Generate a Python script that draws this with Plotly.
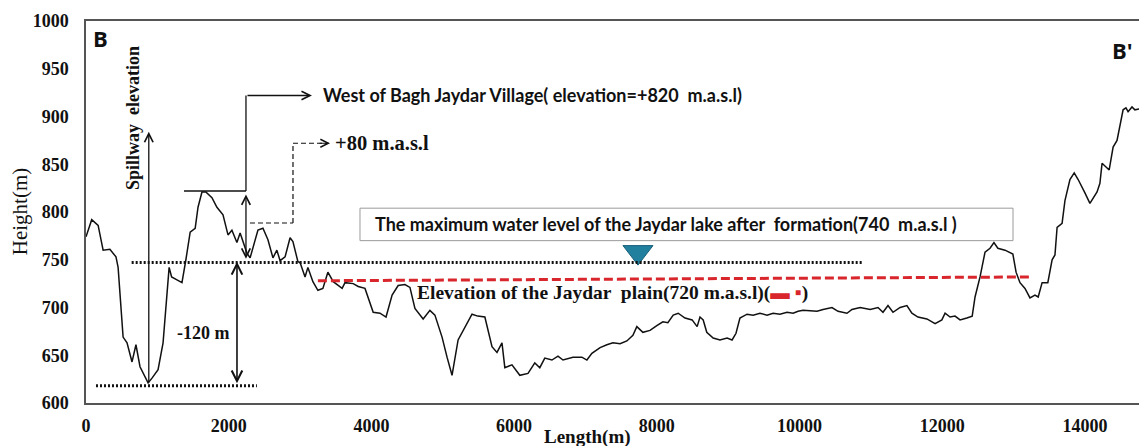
import plotly.graph_objects as go

# ---- data ----
length_m = [0, 80, 170, 240, 335, 420, 450, 520, 575, 645, 700, 757, 870, 925, 1010, 1080, 1165, 1200,
            1275, 1345, 1400, 1460, 1530, 1570, 1625, 1680, 1765, 1835, 1920, 1990, 2045, 2115, 2160,
            2255, 2300, 2370, 2410, 2480, 2550, 2620, 2675, 2720, 2790, 2860, 2900, 2970, 3000, 3070,
            3110, 3180, 3250, 3320, 3390, 3465, 3590, 3630, 3745, 3815, 3910, 4025, 4120, 4205, 4290,
            4375, 4470, 4540, 4610, 4725, 4820, 4890, 4990, 5060, 5130, 5215, 5310, 5410, 5490, 5590,
            5690, 5760, 5830, 5870, 5970, 6080, 6195, 6290, 6360, 6430, 6530, 6615, 6685, 6825, 6950,
            7020, 7090, 7205, 7300, 7385, 7485, 7580, 7665, 7720, 7805, 7905, 8000, 8085, 8155, 8230,
            8300, 8395, 8495, 8565, 8605, 8650, 8700, 8790, 8885, 8985, 9055, 9110, 9165, 9265, 9350,
            9445, 9545, 9630, 9725, 9825, 9910, 9980, 10050, 10245, 10330, 10455, 10540, 10665, 10735,
            10850, 10990, 11100, 11170, 11240, 11310, 11410, 11505, 11575, 11660, 11785, 11900, 11995,
            12040, 12110, 12180, 12250, 12345, 12420, 12460, 12530, 12600, 12670, 12725, 12780, 12880,
            12990, 13035, 13090, 13160, 13230, 13300, 13345, 13400, 13480, 13540, 13580, 13610, 13680,
            13720, 13790, 13850, 13905, 14000, 14070, 14170, 14210, 14240, 14295, 14340, 14395, 14450,
            14535, 14575, 14605, 14660, 14700, 14770, 14815, 14870]
height_m = [774, 792, 786, 760, 761, 753, 742, 669, 663, 643, 661, 638, 621, 626, 635, 663, 742, 732,
            729, 726, 750, 779, 783, 805, 821, 821, 815, 805, 797, 776, 781, 768, 778,
            757, 752, 771, 781, 783, 771, 752, 760, 749, 753, 773, 769, 748, 747, 732,
            742, 727, 718, 720, 737, 727, 720, 726, 725, 722, 720, 695, 694, 690, 713,
            723, 724, 721, 699, 688, 697, 692, 669, 648, 629, 666, 680, 693, 691, 690,
            659, 653, 663, 637, 640, 629, 631, 642, 637, 647, 645, 649, 645, 648, 648,
            645, 652, 658, 661, 663, 662, 665, 671, 680, 674, 676, 681, 685, 684, 692,
            694, 689, 687, 680, 690, 687, 674, 668, 666, 668, 666, 673, 689, 693, 692,
            694, 692, 694, 693, 695, 694, 696, 697, 696, 698, 700, 696, 694, 698,
            700, 698, 700, 695, 702, 695, 700, 702, 694, 690, 688, 683, 687,
            694, 690, 691, 687, 689, 691, 711, 732, 758, 762, 768, 762, 760,
            756, 737, 726, 720, 710, 713, 711, 726, 726, 750, 755, 784, 788,
            812, 834, 841, 834, 820, 809, 821, 830, 851, 847, 844, 868, 875,
            907, 909, 905, 910, 907, 908, 902, 894]

x_ticks = [0, 2000, 4000, 6000, 8000, 10000, 12000, 14000]
y_ticks = [600, 650, 700, 750, 800, 850, 900, 950, 1000]

lake_marker_x = [7736]
lake_marker_y = [758]

SERIF = "Liberation Serif"
SANS = "Lato"

fig = go.Figure()
fig.add_trace(go.Scatter(x=length_m, y=height_m, mode="lines",
                         line=dict(color="#111111", width=1.5), showlegend=False, hoverinfo="skip"))
fig.add_trace(go.Scatter(x=lake_marker_x, y=lake_marker_y, mode="markers",
                         marker=dict(symbol="triangle-down", size=26, color="#22809f",
                                     line=dict(color="#175f78", width=1)),
                         showlegend=False, hoverinfo="skip"))

shapes = []
def hline(x0, x1, y, **kw):
    shapes.append(dict(type="line", xref="x", yref="y", x0=x0, x1=x1, y0=y, y1=y, **kw))
def vline(x, y0, y1, **kw):
    shapes.append(dict(type="line", xref="x", yref="y", x0=x, x1=x, y0=y0, y1=y1, **kw))

blk = dict(color="#111111", width=1.3)
# dotted reference lines
hline(640, 10880, 747, line=dict(color="#111111", width=3, dash="2px,2px"))
hline(140, 2395, 618, line=dict(color="#111111", width=3, dash="2px,2px"))
# red dashed plain line
shapes.append(dict(type="line", xref="x", yref="y", x0=3250, x1=13240, y0=728, y1=732,
                   line=dict(color="#d8262c", width=3, dash="9px,4px")))
# 820 level line and vertical connector
hline(1373, 2242, 822, line=blk)
vline(2242, 822, 922, line=blk)
# dashed +80 path
hline(2298, 2901, 788.5, line=dict(color="#111111", width=1.2, dash="5px,3px"))
vline(2901, 788.5, 872, line=dict(color="#111111", width=1.2, dash="5px,3px"))
hline(2901, 3400, 872, line=dict(color="#111111", width=1.2, dash="5px,3px"))
# box
shapes.append(dict(type="rect", xref="x", yref="y", x0=3840, x1=12992, y0=770, y1=804,
                   line=dict(color="#9a9a9a", width=1), fillcolor="rgba(255,255,255,0)"))

ann = []
def arrow(x, y, ax, ay, both=False, width=1.3):
    d = dict(x=x, y=y, ax=ax, ay=ay, xref="x", yref="y", axref="x", ayref="y", text="",
             showarrow=True, arrowhead=5, arrowsize=1.3, arrowwidth=width, arrowcolor="#111111")
    if both:
        d.update(arrowside="end+start", startarrowhead=5, startarrowsize=1.3)
    ann.append(d)

arrow(880, 884, 880, 620)                     # spillway arrow
arrow(2242, 751, 2242, 820, both=True)        # 820 -> 747 double arrow
arrow(3167, 922, 2242, 922)                   # to West of Bagh Jaydar
arrow(2116, 748, 2116, 619, both=True, width=1.6)  # -120 m
ann.append(dict(x=3420, y=872, ax=-12, ay=0, xref="x", yref="y", text="", showarrow=True,
                arrowhead=5, arrowsize=1.3, arrowwidth=1.2, arrowcolor="#111111"))

def text(x, y, s, font, size, xanchor="left", angle=0, color="#111111", xref="x", yref="y"):
    ann.append(dict(x=x, y=y, xref=xref, yref=yref, text=s, showarrow=False, xanchor=xanchor,
                    yanchor="middle", textangle=angle,
                    font=dict(family=font, size=size, color=color)))

text(3293, 922, "<b>West of Bagh Jaydar Village( elevation=+820  m.a.s.l)</b>", SANS, 18)
text(3462, 872, "<b>+80 m.a.s.l</b>", SERIF, 20.5)
text(665, 899, "<b>Spillway  elevation</b>", SERIF, 18, xanchor="center", angle=-90)
text(1640, 673, "<b>-120 m</b>", SERIF, 18, xanchor="center")
text(4022, 787.5, "<b>The maximum water level of the Jaydar lake after  formation(740  m.a.s.l )</b>", SANS, 18)
text(4611, 715, "<b>Elevation of the Jaydar  plain(720 m.a.s.l)(<span style='color:#d8262c'>▬ ▪</span>)</b>", SERIF, 19.5)
text(210, 982, "<b>B</b>", "Open Sans", 22, xanchor="center")
text(14700, 970, "<b>B'</b>", "Open Sans", 22, xanchor="right")
text(0.473, -0.088, "<b>Length(m)</b>", SERIF, 19, xanchor="center", xref="paper", yref="paper")
text(-0.062, 0.5, "Height(m)", SERIF, 21, xanchor="center", angle=-90, xref="paper", yref="paper")

# the page body adds an 8 px offset, so the figure is 8 px smaller and margins shifted
fig.update_layout(
    width=1139, height=438,
    margin=dict(l=78, r=0, t=13, b=43, autoexpand=False),
    paper_bgcolor="white", plot_bgcolor="white",
    shapes=shapes, annotations=ann,
    xaxis=dict(range=[0, 14870], tickvals=x_ticks, ticktext=[str(v) for v in x_ticks],
               showgrid=False, zeroline=False, showline=True, linecolor="#555555", linewidth=1.5,
               mirror=True, ticks="outside", ticklen=6, tickcolor="rgba(0,0,0,0)", automargin=False,
               tickfont=dict(family=SERIF, size=18, color="#111111", weight="bold")),
    yaxis=dict(range=[600, 1000], tickvals=y_ticks, ticktext=[str(v) for v in y_ticks],
               showgrid=False, zeroline=False, showline=True, linecolor="#555555", linewidth=1.5,
               ticks="outside", ticklen=12, tickcolor="rgba(0,0,0,0)", automargin=False,
               tickfont=dict(family=SERIF, size=18, color="#111111", weight="bold")),
)

fig.write_html("out.html")
